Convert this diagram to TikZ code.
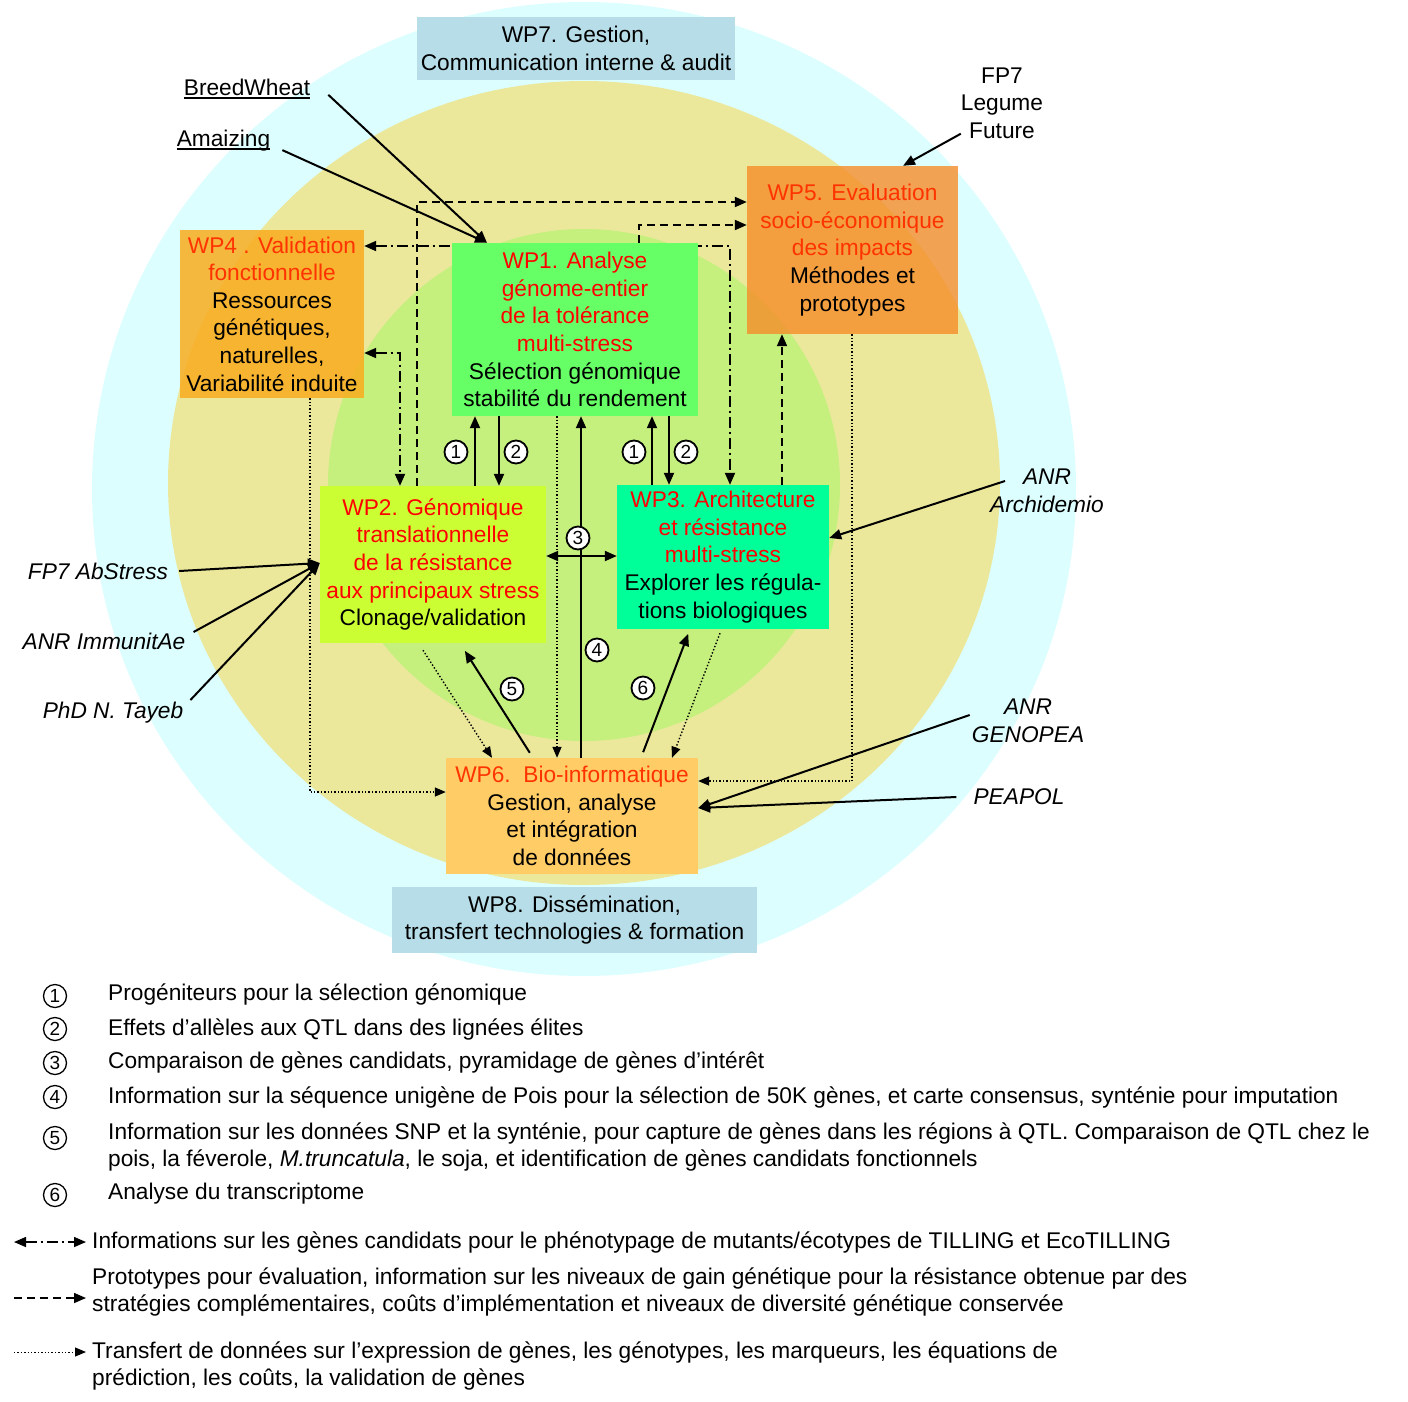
\documentclass[tikz,border=0pt]{standalone}
\usepackage{fontspec}
\setmainfont{Liberation Sans}
\usetikzlibrary{arrows.meta, positioning, backgrounds}

\definecolor{cyanbg}{RGB}{221,254,254}
\definecolor{yellowbg}{RGB}{235,232,156}
\definecolor{greenbg}{RGB}{197,240,126}
\definecolor{wpblue}{RGB}{183,222,232}
\definecolor{wpone}{RGB}{102,255,102}
\definecolor{wptwo}{RGB}{204,255,51}
\definecolor{wpthree}{RGB}{0,255,153}
\definecolor{wpfour}{RGB}{250,172,30}
\definecolor{wpfive}{RGB}{246,140,40}
\definecolor{wpsix}{RGB}{255,204,102}
\definecolor{ttred}{RGB}{255,0,0}
\definecolor{ttorange}{RGB}{255,51,0}

\newcommand{\ttr}[1]{\textcolor{ttred}{#1}}
\newcommand{\tto}[1]{\textcolor{ttorange}{#1}}
\newcommand{\ulname}[1]{\setbox0\hbox{#1}\rlap{\rule[-4pt]{\wd0}{1.8pt}}\box0}

\begin{document}
\begin{tikzpicture}[
        x=1pt, y=-1pt,
        font=\fontsize{22.7}{27.6}\selectfont,
        wp/.style={rectangle, inner sep=0pt, align=center},
        lbl/.style={inner sep=0pt, align=center},
        num/.style={circle, draw, line width=1.8pt, fill=white, inner sep=0pt,
                    minimum size=23pt, font=\fontsize{19}{19}\selectfont},
        lnum/.style={num, line width=1.3pt},
        arr/.style={-{Triangle[length=12pt,width=10pt]}, line width=2pt},
        dashln/.style={arr, dash pattern=on 8pt off 5pt},
        dashdotln/.style={{Triangle[length=12pt,width=10pt]}-{Triangle[length=12pt,width=10pt]},
                          line width=2pt, dash pattern=on 11pt off 4pt on 2pt off 4pt},
        dotln/.style={-{Triangle[length=11pt,width=9pt]}, line width=1.4pt,
                      dash pattern=on 1.4pt off 2pt},
    ]
    \useasboundingbox (0,0) rectangle (1408,1401);

    \begin{scope}[on background layer]
        \fill[cyanbg]   (584,489) ellipse [x radius=492, y radius=487];
        \fill[yellowbg] (584,483) ellipse [x radius=416, y radius=402];
        \fill[greenbg]  (584,485) circle [radius=256];
    \end{scope}

    \node[wp, fill=wpblue, minimum width=318pt, minimum height=63pt] (wp7) at (576,48.5)
        {WP7. Gestion,\\Communication interne \& audit};
    \node[wp, fill=wpfour, fill opacity=0.85, text opacity=1, minimum width=184pt, minimum height=168pt] (wp4) at (272,314)
        {\tto{WP4 . Validation}\\\tto{fonctionnelle}\\Ressources\\génétiques,\\naturelles,\\Variabilité induite};
    \node[wp, fill=wpone, minimum width=246pt, minimum height=173pt] (wp1) at (575,329.5)
        {\ttr{WP1. Analyse}\\\ttr{génome-entier}\\\ttr{de la tolérance}\\\ttr{multi-stress}\\Sélection génomique\\stabilité du rendement};
    \node[wp, fill=wpfive, fill opacity=0.8, text opacity=1, minimum width=211pt, minimum height=168pt] (wp5) at (852.5,250)
        {\tto{WP5. Evaluation}\\\tto{socio-économique}\\\tto{des impacts}\\Méthodes et\\prototypes};
    \node[wp, fill=wptwo, minimum width=226pt, minimum height=157pt] (wp2) at (433,564.5)
        {\ttr{WP2. Génomique}\\\ttr{translationnelle}\\\ttr{de la résistance}\\\ttr{aux principaux stress}\\Clonage/validation};
    \node[wp, fill=wpthree, minimum width=212pt, minimum height=144pt] (wp3) at (723,557)
        {\ttr{WP3. Architecture}\\\ttr{et résistance}\\\ttr{multi-stress}\\Explorer les régula-\\tions biologiques};
    \node[wp, fill=wpsix, minimum width=252pt, minimum height=116pt] (wp6) at (572,816)
        {\tto{WP6.\ \ Bio-informatique}\\Gestion, analyse\\et intégration\\de données};
    \node[wp, fill=wpblue, minimum width=365pt, minimum height=66pt] (wp8) at (574.5,920)
        {WP8. Dissémination,\\transfert technologies \& formation};

    \node[lbl, anchor=base] (breed) at (247,95) {\ulname{BreedWheat}};
    \node[lbl, anchor=base] (amaiz) at (223.5,146) {\ulname{Amaizing}};
    \node[lbl] (legume) at (1002,103) {FP7\\Legume\\Future};
    \node[lbl, font=\fontsize{22.7}{27.6}\selectfont\itshape] (archi) at (1047,491) {ANR\\Archidemio};
    \node[lbl, font=\fontsize{22.7}{27.6}\selectfont\itshape] (abstress) at (98,571) {FP7 AbStress};
    \node[lbl, font=\fontsize{22.7}{27.6}\selectfont\itshape] (immun) at (104,641) {ANR ImmunitAe};
    \node[lbl, font=\fontsize{22.7}{27.6}\selectfont\itshape] (tayeb) at (113,713) {PhD N. Tayeb};
    \node[lbl, font=\fontsize{22.7}{27.6}\selectfont\itshape] (genopea) at (1028,721) {ANR\\GENOPEA};
    \node[lbl, font=\fontsize{22.7}{27.6}\selectfont\itshape] (peapol) at (1019,797) {PEAPOL};

    \draw[arr] ([shift={(18pt,-6pt)}]breed.east) -- (wp1.north -| 487,0);
    \draw[arr] ([shift={(12pt,-10pt)}]amaiz.east) -- (wp1.north -| 487,0);
    \draw[arr] ([yshift=5pt]legume.south west) -- (wp5.north -| 903,0);
    \draw[arr] ([shift={(15pt,10pt)}]archi.west) -- (wp3.east |- 0,538);
    \draw[arr] ([xshift=11pt]abstress.east) -- (wp2.west |- 0,563);
    \draw[arr] ([shift={(8pt,9pt)}]immun.east) -- (wp2.west |- 0,563);
    \draw[arr] ([shift={(7pt,13pt)}]tayeb.east) -- (wp2.west |- 0,563);
    \draw[arr] ([shift={(-2pt,6pt)}]genopea.west) -- (wp6.east |- 0,808);
    \draw[arr] ([xshift=-17pt]peapol.west) -- (wp6.east |- 0,808);

    \begin{scope}[on background layer]
        \draw[dashdotln] (wp4.east |- 0,246) -| (wp3.north -| 730,0);
    \end{scope}
    \draw[dashdotln] (wp4.east |- 0,353) -| (wp2.north -| 400,0);
    \draw[dashln] (wp2.north -| 417,0) |- (wp5.west |- 0,202);
    \draw[dashln] (wp1.north -| 639,0) |- (wp5.west |- 0,225);
    \draw[dashln] (wp3.north -| 782,0) -- (wp5.south -| 782,0);

    \draw[dotln] (wp4.south -| 310,0) |- (wp6.west |- 0,792);
    \draw[dotln] (wp5.south -| 852,0) |- (wp6.east |- 0,781);
    \draw[dotln] ([shift={(-10pt,-7pt)}]wp2.south) -- (wp6.north -| 492,0);
    \draw[dotln] (wp1.south -| 557,0) -- (wp6.north -| 557,0);
    \draw[dotln] ([shift={(-3pt,-4pt)}]wp3.south) -- (wp6.north -| 672,0);

    \draw[arr] (wp2.north -| 475,0) -- (wp1.south -| 475,0);
    \draw[arr] (wp1.south -| 499,0) -- (wp2.north -| 499,0);
    \draw[arr] (wp3.north -| 652,0) -- (wp1.south -| 652,0);
    \draw[arr] (wp1.south -| 669,0) -- (wp3.north -| 669,0);
    \draw[arr] (wp6.north -| 581,0) -- (wp1.south -| 581,0);
    \draw[arr, {Triangle[length=12pt,width=10pt]}-{Triangle[length=12pt,width=10pt]}] (wp2.east |- 0,556) -- (wp3.west |- 0,556);
    \draw[arr, shorten <=6pt, shorten >=9pt] (wp6.north -| 533,0) -- (wp2.south -| 460,0);
    \draw[arr, shorten <=6pt, shorten >=5pt] (wp6.north -| 641,0) -- (wp3.south -| 690,0);

    \node[num] (n1a) at (456,452) {1};
    \node[num] (n2a) at (516,452) {2};
    \node[num] (n1b) at (634,452) {1};
    \node[num] (n2b) at (686,452) {2};
    \node[num] (n3)  at (578,538) {3};
    \node[num] (n4)  at (597,650) {4};
    \node[num] (n5)  at (512,689) {5};
    \node[num] (n6)  at (643,688) {6};

    \node[lnum] (l1) at (55,996)  {1};
    \node[lnum] (l2) at (55,1029) {2};
    \node[lnum] (l3) at (55,1063) {3};
    \node[lnum] (l4) at (55,1097) {4};
    \node[lnum] (l5) at (55,1138) {5};
    \node[lnum] (l6) at (55,1195) {6};
    \node[lbl, anchor=west] (t1) at (108,994)  {Progéniteurs pour la sélection génomique};
    \node[lbl, anchor=west] (t2) at (108,1029) {Effets d’allèles aux QTL dans des lignées élites};
    \node[lbl, anchor=west] (t3) at (108,1062) {Comparaison de gènes candidats, pyramidage de gènes d’intérêt};
    \node[lbl, anchor=west] (t4) at (108,1097) {Information sur la séquence unigène de Pois pour la sélection de 50K gènes, et carte consensus, synténie pour imputation};
    \node[lbl, anchor=west, align=left] (t5) at (108,1147) {Information sur les données SNP et la synténie, pour capture de gènes dans les régions à QTL. Comparaison de QTL chez le\\pois, la féverole, \textit{M.truncatula}, le soja, et identification de gènes candidats fonctionnels};
    \node[lbl, anchor=west] (t6) at (108,1194) {Analyse du transcriptome};

    \coordinate (lgA) at (14,1242);
    \coordinate (lgB) at (14,1298);
    \coordinate (lgC) at (14,1352);
    \node[lbl, anchor=west] (tA) at (92,1242) {Informations sur les gènes candidats pour le phénotypage de mutants/écotypes de TILLING et EcoTILLING};
    \node[lbl, anchor=west, align=left] (tB) at (92,1292) {Prototypes pour évaluation, information sur les niveaux de gain génétique pour la résistance obtenue par des\\stratégies complémentaires, coûts d’implémentation et niveaux de diversité génétique conservée};
    \node[lbl, anchor=west, align=left] (tC) at (92,1366) {Transfert de données sur l’expression de gènes, les génotypes, les marqueurs, les équations de\\prédiction, les coûts, la validation de gènes};
    \draw[dashdotln, line width=1.5pt] (lgA) -- ([xshift=-6pt]tA.west);
    \draw[dashln, line width=1.5pt, shorten >=6pt] (lgB) -- (lgB -| tB.west);
    \draw[dotln, line width=1pt, shorten >=6pt] (lgC) -- (lgC -| tC.west);
\end{tikzpicture}
\end{document}
